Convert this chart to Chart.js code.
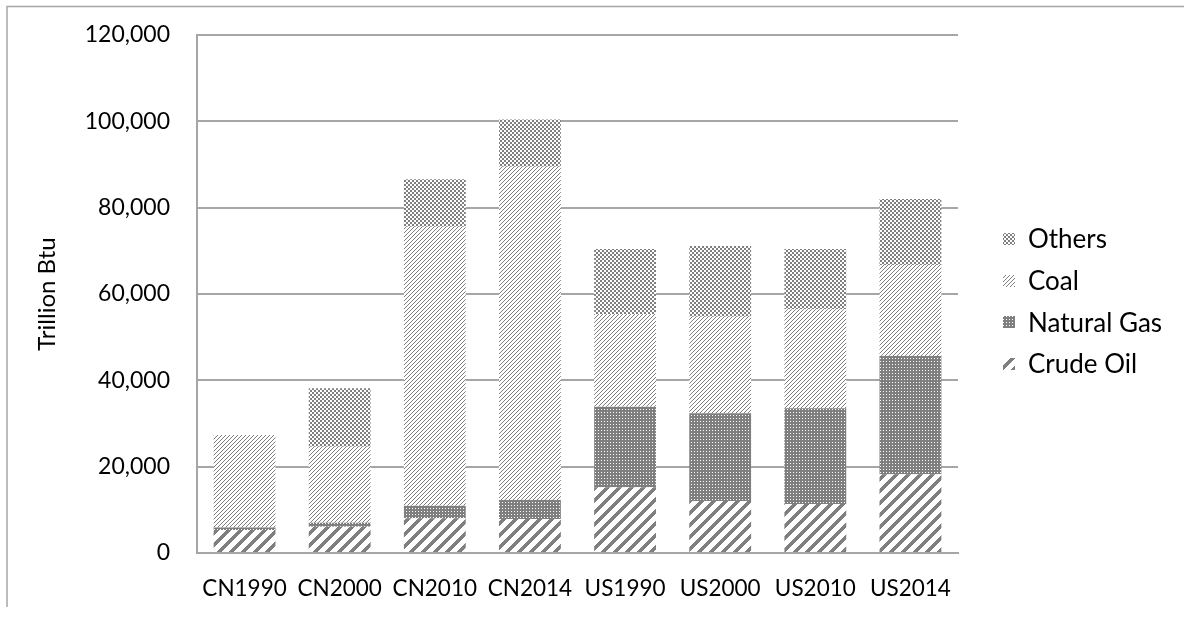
<!DOCTYPE html>
<html>
<head>
<meta charset="utf-8">
<script src="https://cdn.jsdelivr.net/npm/chart.js@4"></script>
<style>
  html, body { margin: 0; padding: 0; background: #fff; }
  #wrap { width: 1191px; height: 620px; position: relative; }
</style>
</head>
<body>
<div id="wrap"><canvas id="c"></canvas></div>
<script>
// Primary energy consumption by source, trillion Btu
const categories = ['CN1990', 'CN2000', 'CN2010', 'CN2014', 'US1990', 'US2000', 'US2010', 'US2014'];
const crudeOil   = [5300, 6090, 8040, 7880, 15210, 12050, 11350, 18230];
const naturalGas = [600, 930, 2920, 4400, 18690, 20310, 22160, 27410];
const coal       = [21440, 17610, 64640, 77220, 21470, 22390, 22940, 21080];
const others     = [0, 13520, 10970, 10900, 15050, 16370, 13950, 15280];
const yTicks     = [0, 20000, 40000, 60000, 80000, 100000, 120000];

const INK = '#7f7f7f';
const FONT = 'Lato';

// Small bitmap fills in the style of office pattern swatches
function makePattern(size, on) {
  const c = document.createElement('canvas');
  c.width = size; c.height = size;
  const g = c.getContext('2d');
  g.fillStyle = '#ffffff';
  g.fillRect(0, 0, size, size);
  g.fillStyle = INK;
  for (let y = 0; y < size; y++) {
    for (let x = 0; x < size; x++) {
      if (on(x, y)) g.fillRect(x, y, 1, 1);
    }
  }
  return g.createPattern(c, 'repeat');
}

const fillOthers = makePattern(4, (x, y) => (((x >> 1) + (y >> 1)) % 2) === 0);
const fillCoal   = makePattern(4, (x, y) => ((x + y) % 4) === 0);
const fillGas    = makePattern(3, (x, y) => !(x === 1 && y === 1));
const fillCrude  = makePattern(12, (x, y) => ((x + y) % 12) < 5);

// Frame lines around the chart
const framePlugin = {
  id: 'frame',
  beforeDraw(chart) {
    const ctx = chart.ctx;
    ctx.save();
    ctx.fillStyle = '#ffffff';
    ctx.fillRect(0, 0, chart.width, chart.height);
    ctx.strokeStyle = '#a6a6a6';
    ctx.lineWidth = 1.5;
    ctx.beginPath();
    ctx.moveTo(7, 607);
    ctx.lineTo(7, 6.5);
    ctx.lineTo(1184, 6.5);
    ctx.stroke();
    ctx.restore();
  }
};

// Legend column on the right, top item = last series
const sideLegend = {
  id: 'sideLegend',
  afterDraw(chart) {
    const ctx = chart.ctx;
    const sets = chart.data.datasets.slice().reverse();
    const top = 239, step = 41.7, boxX = 1003, box = 12, textX = 1028;
    ctx.save();
    ctx.font = '26px ' + FONT;
    ctx.textBaseline = 'middle';
    ctx.textAlign = 'left';
    sets.forEach((ds, i) => {
      const cy = top + i * step;
      ctx.fillStyle = ds.backgroundColor;
      ctx.fillRect(boxX, Math.round(cy - box / 2), box, box);
      ctx.fillStyle = '#000';
      ctx.fillText(ds.label, textX, cy + 1);
    });
    ctx.restore();
  }
};

const barShape = { categoryPercentage: 0.65, barPercentage: 1.0, borderWidth: 0 };

new Chart(document.getElementById('c'), {
  type: 'bar',
  data: {
    labels: categories,
    datasets: [
      Object.assign({ label: 'Crude Oil', data: crudeOil, backgroundColor: fillCrude }, barShape),
      Object.assign({ label: 'Natural Gas', data: naturalGas, backgroundColor: fillGas }, barShape),
      Object.assign({ label: 'Coal', data: coal, backgroundColor: fillCoal }, barShape),
      Object.assign({ label: 'Others', data: others, backgroundColor: fillOthers }, barShape)
    ]
  },
  options: {
    responsive: true,
    maintainAspectRatio: false,
    animation: false,
    layout: { padding: { left: 0, top: 35, right: 233, bottom: 0 } },
    plugins: {
      legend: { display: false },
      tooltip: { enabled: false }
    },
    scales: {
      x: {
        stacked: true,
        grid: { display: false, drawTicks: false },
        border: { display: true, color: '#a6a6a6', width: 2 },
        ticks: { color: '#000', font: { family: FONT, size: 22.5 }, padding: 22, maxRotation: 0 },
        afterFit(scale) { scale.height = 67; }
      },
      y: {
        stacked: true,
        min: 0,
        max: 120000,
        grid: { color: '#a6a6a6', lineWidth: 2, drawTicks: false },
        border: { display: true, color: '#a6a6a6', width: 2 },
        ticks: {
          color: '#000',
          font: { family: FONT, size: 23 },
          padding: 27,
          callback: v => v.toLocaleString('en-US')
        },
        afterBuildTicks(scale) { scale.ticks = yTicks.map(v => ({ value: v })); },
        title: {
          display: true,
          text: 'Trillion Btu',
          color: '#000',
          font: { family: FONT, size: 24 },
          padding: { top: 33, bottom: 0 }
        },
        afterFit(scale) {
          scale.width = 197;
          scale.paddingTop = 0;
          scale.paddingBottom = 0;
        }
      }
    }
  },
  plugins: [framePlugin, sideLegend]
});
</script>
</body>
</html>
